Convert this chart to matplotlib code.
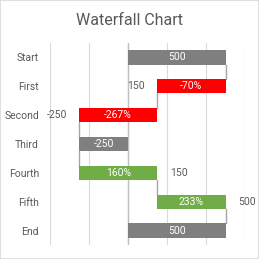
import matplotlib
matplotlib.use('Agg')
import matplotlib.pyplot as plt
from matplotlib.patches import Rectangle

plt.rcParams['font.family'] = ['Roboto', 'DejaVu Sans']

# chart data
categories = ['Start', 'First', 'Second', 'Third', 'Fourth', 'Fifth', 'End']
bar_from = [0, 500, 150, -250, -250, 150, 0]
bar_to = [500, 150, -250, 0, 150, 500, 500]
# running total after each row (where the connector line sits)
level = [500, 150, -250, -250, 150, 500, 500]
kinds = ['total', 'down', 'down', 'total', 'up', 'up', 'total']
bar_labels = ['500', '-70%', '-267%', '-250', '160%', '233%', '500']
# running-total labels shown beside some bars: (row, value, side)
side_labels = [(1, 150, 'left'), (2, -250, 'left'), (4, 150, 'right'), (5, 500, 'right')]

colors = {'total': '#7F7F7F', 'down': '#FF0000', 'up': '#70AD47'}
text_col = '#595959'

fig = plt.figure(figsize=(2.59, 2.59), dpi=100)
fig.patches.append(Rectangle((0, 0), 1, 1, transform=fig.transFigure,
                             fill=False, edgecolor='#D9D9D9', linewidth=1.2))
ax = fig.add_axes([0.193, 0.054, 0.753, 0.78])

ys = list(range(len(categories)))
h = 0.5
for y, a, b, k, lab in zip(ys, bar_from, bar_to, kinds, bar_labels):
    ax.barh(y, abs(b - a), left=min(a, b), height=h, color=colors[k], zorder=3)
    ax.text((a + b) / 2, y, lab, ha='center', va='center', color='white',
            fontsize=7.5, zorder=4)

# connector lines between consecutive bars
for i in range(len(categories) - 1):
    ax.plot([level[i], level[i]], [i + h / 2, i + 1 - h / 2],
            color='#A6A6A6', lw=1, zorder=2)

for row, val, side in side_labels:
    off = -9 if side == 'left' else 9
    ax.annotate(str(val), (val, row), xytext=(off, 0), textcoords='offset points',
                ha='right' if side == 'left' else 'left', va='center',
                color=text_col, fontsize=7.5, annotation_clip=False)

ax.axvline(0, color='#BFBFBF', lw=1, zorder=2)
ax.set_xlim(-400, 600)
ax.set_ylim(len(categories) - 0.5, -0.5)
ax.set_xticks(range(-400, 601, 200))
ax.xaxis.grid(True, color='#D9D9D9', lw=0.8, zorder=0)
ax.set_axisbelow(True)
ax.tick_params(axis='x', length=0, labelbottom=False)
ax.tick_params(axis='y', length=0, pad=8, labelsize=7.5, labelcolor=text_col)
ax.set_yticks(ys)
ax.set_yticklabels(categories)
for s in ax.spines.values():
    s.set_visible(False)

fig.text(0.5, 0.92, 'Waterfall Chart', ha='center', va='center',
         fontsize=11.5, color=text_col)

fig.savefig('out.png', dpi=100)
